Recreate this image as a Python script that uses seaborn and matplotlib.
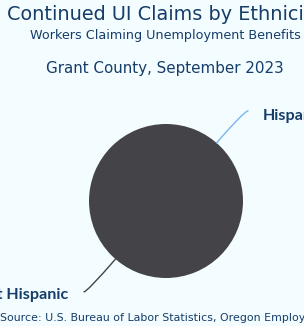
import numpy as np
import matplotlib
matplotlib.use("Agg")
import matplotlib.pyplot as plt
import seaborn as sns

ethnicity = ["Hispanic", "Not Hispanic"]
claims = [0, 52]
slice_colors = ["#7cb5ec", "#434348"]

title = "Continued UI Claims by Ethnicity"
subtitle = "Workers Claiming Unemployment Benefits"
place = "Grant County, September 2023"
source = "Source: U.S. Bureau of Labor Statistics, Oregon Employment Department"

bg = "#f3fdff"
ink = "#163c68"

sns.set_theme(style="white")
plt.rcParams["font.family"] = ["DejaVu Sans"]

W, H = 304, 326
fig = plt.figure(figsize=(W / 100, H / 100), dpi=100, facecolor=bg)

# pie centre / radius in pixels
cx, cy, r = 166, 201, 77
ax = fig.add_axes([(cx - r) / W, (H - cy - r) / H, 2 * r / W, 2 * r / H])
ax.set_facecolor(bg)

wedges, _ = ax.pie(claims, colors=slice_colors, startangle=49, counterclock=False,
                   wedgeprops=dict(linewidth=0))
ax.set_xlim(-1, 1)
ax.set_ylim(-1, 1)
ax.set_aspect("equal")
ax.axis("off")

# labels with curved connectors
label_pos = {
    "Hispanic": dict(end=(1.065, 1.17), txt=(1.26, 1.052), ha="left"),
    "Not Hispanic": dict(end=(-1.065, -1.18), txt=(-1.27, -1.273), ha="right"),
}
for w, name, col in zip(wedges, ethnicity, slice_colors):
    mid = np.deg2rad((w.theta1 + w.theta2) / 2)
    px, py = np.cos(mid), np.sin(mid)
    p = label_pos[name]
    ax.annotate("", xy=(px, py), xytext=p["end"], annotation_clip=False,
                arrowprops=dict(arrowstyle="-", color=col, lw=1,
                                shrinkA=0, shrinkB=0,
                                connectionstyle=f"angle3,angleA=0,angleB={np.rad2deg(mid):.1f}"))
    ax.text(p["txt"][0], p["txt"][1], name, ha=p["ha"], va="baseline",
            fontsize=11.6, fontweight="bold", color=ink, clip_on=False,
            family=["Lato", "DejaVu Sans"])

fig.text(165 / W, 1 - 15 / H, title, ha="center", va="center", fontsize=13.9, color=ink)
fig.text(165 / W, 1 - 35 / H, subtitle, ha="center", va="center", fontsize=9.2, color=ink)
fig.text(165 / W, 1 - 68 / H, place, ha="center", va="center", fontsize=10.9, color=ink)
fig.text(0 / W, 1 - 318 / H, source, ha="left", va="center", fontsize=7.9, color=ink)

fig.savefig("out.png", dpi=100, facecolor=bg)
